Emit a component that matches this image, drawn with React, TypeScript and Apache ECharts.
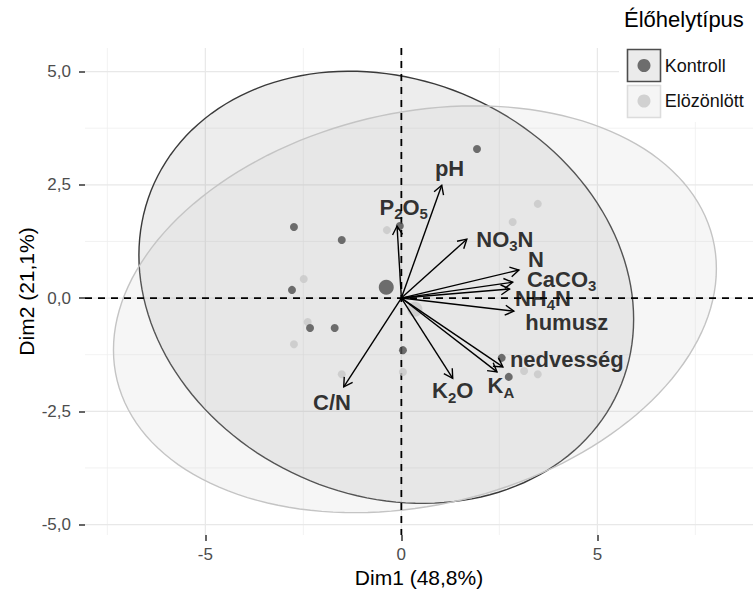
import React, { useEffect, useRef } from "react";
import * as echarts from "echarts";

const FONT = "'Liberation Sans', Arial, Helvetica, sans-serif";

// Individuals (Dim1, Dim2)
const kontrollDim1 = [1.93, -2.74, -1.52, -0.04, -2.79, -2.33, -1.7, 0.04, 2.56, 2.74];
const kontrollDim2 = [3.29, 1.57, 1.28, 1.59, 0.18, -0.66, -0.66, -1.15, -1.32, -1.74];
const elozonlottDim1 = [3.48, 2.84, -0.37, -2.49, -2.39, -2.74, -1.52, 0.04, 3.13, 3.48];
const elozonlottDim2 = [2.08, 1.68, 1.5, 0.42, -0.53, -1.02, -1.68, -1.63, -1.61, -1.68];

const groupNames = ["Kontroll", "Elözönlött"];
const groupColors = ["#4d4d4d", "#c8c8c8"];

// Concentration ellipses: sd along Dim1, sd along Dim2, correlation
const ellipseSd1 = [6.31, 7.69];
const ellipseSd2 = [4.77, 4.49];
const ellipseRho = [-0.148, 0.2];

// Variables (arrow tips) and their label positions
const varLabels = ["pH", "P{s|2}O{s|5}", "NO{s|3}N", "N", "CaCO{s|3}", "NH{s|4}N", "humusz", "nedvesség", "K{s|A}", "K{s|2}O", "C/N"];
const varDim1 = [1.03, -0.11, 1.67, 3.0, 2.84, 2.76, 2.87, 2.59, 2.44, 1.31, -1.47];
const varDim2 = [2.49, 1.59, 1.3, 0.62, 0.35, 0.2, -0.29, -1.52, -1.63, -1.77, -1.96];
const labelDim1 = [1.23, 0.06, 2.64, 3.43, 4.09, 3.61, 4.22, 4.22, 2.54, 1.31, -1.77];
const labelDim2 = [2.87, 2.01, 1.3, 0.86, 0.42, 0.0, -0.53, -1.35, -1.94, -2.05, -2.3];

// Axes
const xTickValues = [-5, 0, 5];
const yTickValues = [-5, -2.5, 0, 2.5, 5];
const xMinorGrid = [-7.5, -2.5, 2.5, 7.5];
const yMinorGrid = [-3.75, -1.25, 1.25, 3.75];
const X_MIN = -8.07;
const X_MAX = 8.97;
const Y_MIN = -5.23;
const Y_MAX = 5.52;

const xTitle = "Dim1 (48,8%)";
const yTitle = "Dim2 (21,1%)";
const legendTitle = "Élőhelytípus";

const mean = (a: number[]) => a.reduce((s, v) => s + v, 0) / a.length;
const groupDim1 = [kontrollDim1, elozonlottDim1];
const groupDim2 = [kontrollDim2, elozonlottDim2];

function ellipseSeries(g: number, fill: string, stroke: string, z: number) {
  const cx = mean(groupDim1[g]);
  const cy = mean(groupDim2[g]);
  return {
    type: "custom",
    name: groupNames[g] + "-ellipse",
    z,
    silent: true,
    data: [[cx, cy]],
    renderItem: (params: any, api: any) => {
      const s1 = ellipseSd1[g];
      const s2 = ellipseSd2[g];
      const r = ellipseRho[g];
      const k = Math.sqrt(1 - r * r);
      const pts: number[][] = [];
      const n = 160;
      for (let i = 0; i < n; i++) {
        const t = (i / n) * Math.PI * 2;
        const c = Math.cos(t);
        const s = Math.sin(t);
        pts.push(api.coord([cx + s1 * c, cy + s2 * (r * c + k * s)]));
      }
      return {
        type: "polygon",
        shape: { points: pts },
        style: { fill, stroke, lineWidth: 1.4 },
      };
    },
  };
}

function gridLinesSeries(values: number[], orient: number, stroke: string, width: number, dash: number[] | null, z: number, name: string) {
  return {
    type: "custom",
    name,
    z,
    silent: true,
    data: values.map((v) => [v, orient]),
    renderItem: (params: any, api: any) => {
      const cs = params.coordSys;
      const v = api.value(0);
      let shape;
      if (orient === 0) {
        const px = api.coord([v, 0])[0];
        shape = { x1: px, y1: cs.y, x2: px, y2: cs.y + cs.height };
      } else {
        const py = api.coord([0, v])[1];
        shape = { x1: cs.x, y1: py, x2: cs.x + cs.width, y2: py };
      }
      return {
        type: "line",
        shape,
        style: { stroke, lineWidth: width, lineDash: dash || undefined, fill: null },
      };
    },
  };
}

export default function App() {
  const ref = useRef<HTMLDivElement>(null);
  useEffect(() => {
    if (!ref.current) return;
    const chart = echarts.init(ref.current, undefined, { renderer: "svg" });

    const arrowSeries = {
      type: "custom",
      name: "variables",
      z: 5,
      silent: true,
      data: varDim1.map((x, i) => [x, varDim2[i]]),
      renderItem: (params: any, api: any) => {
        const o = api.coord([0, 0]);
        const t = api.coord([api.value(0), api.value(1)]);
        const ang = Math.atan2(t[1] - o[1], t[0] - o[0]);
        const L = 10;
        const a1 = ang + Math.PI - Math.PI / 6;
        const a2 = ang + Math.PI + Math.PI / 6;
        return {
          type: "group",
          children: [
            { type: "line", shape: { x1: o[0], y1: o[1], x2: t[0], y2: t[1] }, style: { stroke: "#000", lineWidth: 1.4 } },
            {
              type: "polyline",
              shape: { points: [[t[0] + L * Math.cos(a1), t[1] + L * Math.sin(a1)], t, [t[0] + L * Math.cos(a2), t[1] + L * Math.sin(a2)]] },
              style: { stroke: "#000", lineWidth: 1.4, fill: null },
            },
          ],
        };
      },
    };

    const option: any = {
      animation: false,
      textStyle: { fontFamily: FONT },
      title: {
        text: legendTitle,
        left: 624,
        top: 8,
        padding: 0,
        z: 20,
        textStyle: { fontFamily: FONT, fontSize: 22, fontWeight: "normal", color: "#000" },
      },
      legend: {
        data: groupNames,
        orient: "vertical",
        left: 637.5,
        top: 48.5,
        padding: 0,
        itemWidth: 31.5,
        itemHeight: 13,
        itemGap: 1.5,
        icon: "circle",
        selectedMode: false,
        z: 20,
        textStyle: { fontFamily: FONT, fontSize: 18, color: "#111", lineHeight: 34 },
      },
      graphic: [
        { type: "rect", z: 15, silent: true, shape: { x: 619, y: 0, width: 134, height: 122 }, style: { fill: "#ffffff" } },
        { type: "rect", z: 16, silent: true, shape: { x: 627.5, y: 49.5, width: 33, height: 32 }, style: { fill: "#ebebeb", stroke: "#4d4d4d", lineWidth: 1.6 } },
        { type: "rect", z: 16, silent: true, shape: { x: 627.5, y: 85.5, width: 33, height: 32 }, style: { fill: "#f5f5f5", stroke: "#dcdcdc", lineWidth: 1.6 } },
      ],
      grid: { left: 85, right: 0, top: 48, bottom: 59, containLabel: false },
      xAxis: {
        type: "value",
        min: X_MIN,
        max: X_MAX,
        axisLine: { show: false, onZero: false },
        axisTick: { show: true, customValues: xTickValues, length: 6, lineStyle: { color: "#333", width: 1.5 } },
        axisLabel: {
          customValues: xTickValues,
          formatter: (v: number) => String(v),
          margin: 11,
          fontSize: 17,
          color: "#4d4d4d",
          fontFamily: FONT,
        },
        splitLine: { show: false },
        name: xTitle,
        nameLocation: "middle",
        nameGap: 32,
        nameMoveOverlap: false,
        nameTextStyle: { fontFamily: FONT, fontSize: 21, color: "#000" },
      },
      yAxis: {
        type: "value",
        min: Y_MIN,
        max: Y_MAX,
        axisLine: { show: false, onZero: false },
        axisTick: { show: true, customValues: yTickValues, length: 6, lineStyle: { color: "#333", width: 1.5 } },
        axisLabel: {
          customValues: yTickValues,
          formatter: (v: number) => v.toFixed(1).replace(".", ","),
          margin: 14,
          fontSize: 17,
          color: "#4d4d4d",
          fontFamily: FONT,
        },
        splitLine: { show: false },
        name: yTitle,
        nameLocation: "middle",
        nameGap: 48,
        nameMoveOverlap: false,
        nameTextStyle: { fontFamily: FONT, fontSize: 21, color: "#000" },
      },
      series: [
        gridLinesSeries(xMinorGrid, 0, "#efefef", 0.8, null, 1, "grid-minor-x"),
        gridLinesSeries(yMinorGrid, 1, "#efefef", 0.8, null, 1, "grid-minor-y"),
        gridLinesSeries(xTickValues, 0, "#e8e8e8", 1.2, null, 1, "grid-major-x"),
        gridLinesSeries(yTickValues, 1, "#e8e8e8", 1.2, null, 1, "grid-major-y"),
        ellipseSeries(0, "rgba(77,77,77,0.10)", "#3a3a3a", 2),
        ellipseSeries(1, "rgba(204,204,204,0.18)", "#c4c4c4", 2.5),
        gridLinesSeries([0], 0, "#000", 1.8, [7, 6], 3, "zero-x"),
        gridLinesSeries([0], 1, "#000", 1.8, [7, 6], 3, "zero-y"),
        {
          type: "scatter",
          name: groupNames[1],
          z: 4,
          silent: true,
          symbolSize: 8,
          itemStyle: { color: groupColors[1] },
          data: elozonlottDim1.map((x, i) => [x, elozonlottDim2[i]]),
        },
        {
          type: "scatter",
          name: groupNames[0],
          z: 4,
          silent: true,
          symbolSize: 8,
          itemStyle: { color: groupColors[0] },
          data: kontrollDim1.map((x, i) => [x, kontrollDim2[i]]),
        },
        {
          type: "scatter",
          name: "group-means",
          z: 4,
          silent: true,
          symbolSize: 15,
          data: [0, 1].map((g) => ({
            value: [mean(groupDim1[g]), mean(groupDim2[g])],
            itemStyle: { color: groupColors[g] },
          })),
        },
        arrowSeries,
        {
          type: "scatter",
          name: "variable-labels",
          z: 6,
          silent: true,
          symbolSize: 1,
          itemStyle: { color: "rgba(0,0,0,0)" },
          data: labelDim1.map((x, i) => [x, labelDim2[i]]),
          label: {
            show: true,
            position: "inside",
            formatter: (p: any) => varLabels[p.dataIndex],
            fontFamily: FONT,
            fontSize: 22,
            fontWeight: "bold",
            color: "#000",
            lineHeight: 19,
            rich: {
              s: { fontFamily: FONT, fontSize: 15, fontWeight: "bold", color: "#000", lineHeight: 6, padding: [13, 0, 0, 0] },
            },
          },
        },
      ],
    };
    chart.setOption(option);
    return () => chart.dispose();
  }, []);
  return <div ref={ref} style={{ position: "absolute", left: 0, top: 0, width: 753, height: 594 }} />;
}
